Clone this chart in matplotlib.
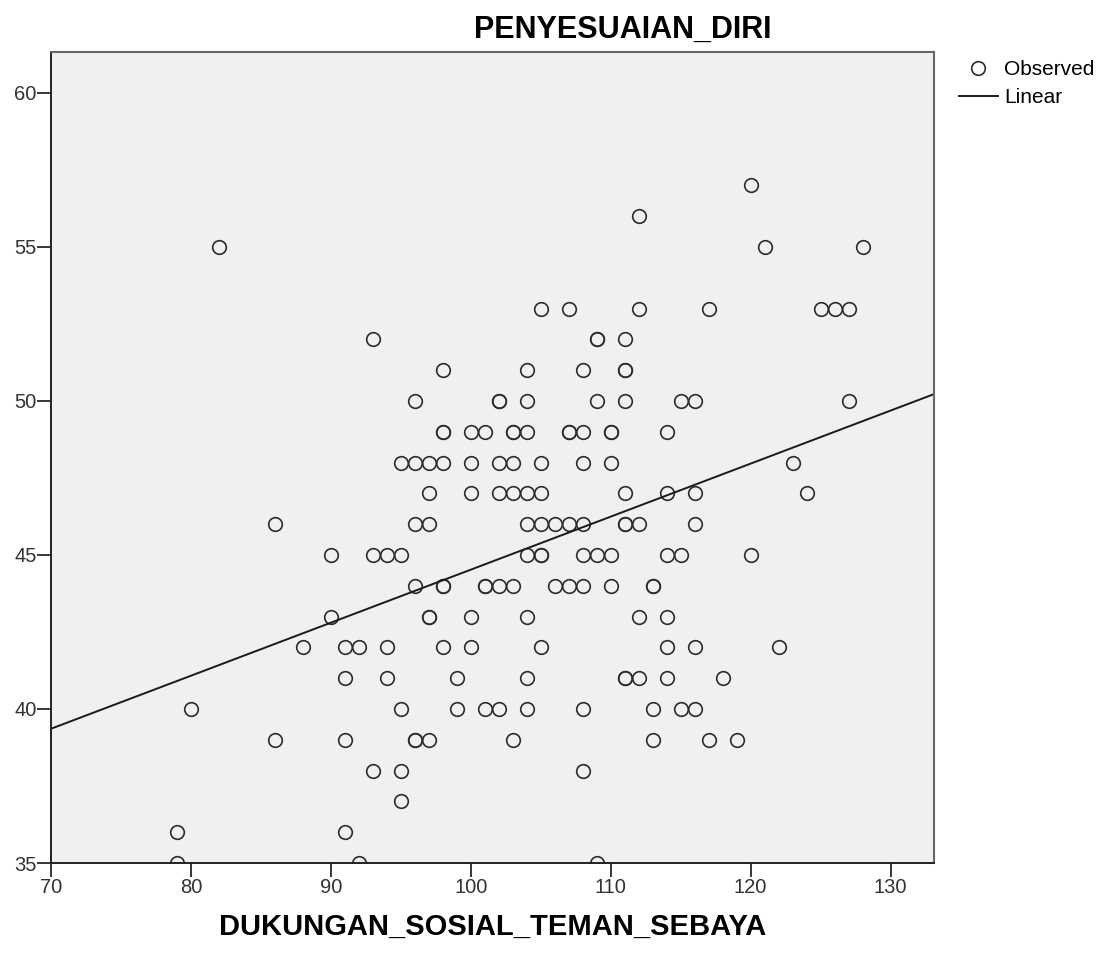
import numpy as np
import matplotlib
matplotlib.use("Agg")
import matplotlib.pyplot as plt
from matplotlib.lines import Line2D

plt.rcParams["font.family"] = ["Liberation Sans", "DejaVu Sans"]

# Observed points, grouped by PENYESUAIAN_DIRI value (duplicates kept)
rows = {
    57: [120],
    56: [112],
    55: [82, 121, 128],
    53: [105, 107, 112, 117, 125, 126, 127],
    52: [93, 109, 109, 111],
    51: [98, 104, 108, 111, 111],
    50: [96, 102, 102, 104, 109, 111, 115, 116, 127],
    49: [98, 98, 100, 101, 103, 103, 104, 107, 107, 108, 110, 110, 114],
    48: [95, 96, 97, 98, 100, 102, 103, 105, 108, 110, 123],
    47: [97, 100, 102, 103, 104, 105, 111, 114, 116, 124],
    46: [86, 96, 97, 104, 105, 106, 107, 108, 111, 111, 112, 116],
    45: [90, 93, 94, 95, 104, 105, 105, 108, 109, 110, 114, 115, 120],
    44: [96, 98, 98, 101, 101, 102, 103, 106, 107, 108, 110, 113, 113],
    43: [90, 97, 97, 100, 104, 112, 114],
    42: [88, 91, 92, 94, 98, 100, 105, 114, 116, 122],
    41: [91, 94, 99, 104, 111, 111, 112, 114, 118],
    40: [80, 95, 99, 101, 102, 104, 108, 113, 115, 116],
    39: [86, 91, 96, 96, 97, 103, 113, 117, 119],
    38: [93, 95, 108],
    37: [95],
    36: [79, 91],
    35: [79, 92, 109],
}
dukungan = [x for y, xs in rows.items() for x in xs]
penyesuaian = [y for y, xs in rows.items() for x in xs]

x_ticks = [70, 80, 90, 100, 110, 120, 130]
y_ticks = [35, 40, 45, 50, 55, 60]

fig = plt.figure(figsize=(11.09, 9.55), dpi=100)
ax = fig.add_axes([51 / 1109, 1 - 863 / 955, (934 - 51) / 1109, (863 - 52) / 955])
ax.set_facecolor("#f0f0f0")

ax.plot(dukungan, penyesuaian, "o", ms=9.8, mfc="none", mec="#2b2b2b", mew=1.2)

ax.set_xlim(70, 133.1)
ax.set_ylim(35, 61.33)

# linear fit
b1, b0 = np.polyfit(dukungan, penyesuaian, 1)
xs = np.array(ax.get_xlim())
ax.plot(xs, b0 + b1 * xs, color="#1a1a1a", lw=1.4)

ax.set_xticks(x_ticks)
ax.set_yticks(y_ticks)
ax.tick_params(axis="x", length=10, width=1.1, pad=1, labelsize=14.5, labelcolor="#333333")
ax.tick_params(axis="y", length=10, width=1.1, pad=0.5, labelsize=14.5, labelcolor="#333333")

for side in ["left", "bottom"]:
    ax.spines[side].set_color("#222222")
    ax.spines[side].set_linewidth(1.4)
for side in ["top", "right"]:
    ax.spines[side].set_color("#666666")
    ax.spines[side].set_linewidth(1.5)

ax.set_xlabel("DUKUNGAN_SOSIAL_TEMAN_SEBAYA", fontsize=21, fontweight="bold", labelpad=11)
fig.text(623 / 1109, 1 - 30 / 955, "PENYESUAIAN_DIRI", fontsize=22, fontweight="bold",
         ha="center", va="center")

handles = [
    Line2D([], [], ls="none", marker="o", ms=9.8, mfc="none", mec="#2b2b2b", mew=1.2),
    Line2D([], [], color="#1a1a1a", lw=1.4),
]
fig.legend(handles, ["Observed", "Linear"], loc="upper left",
           bbox_to_anchor=(959 / 1109, 1 - 60 / 955), frameon=False,
           fontsize=15, handlelength=1.85, handletextpad=0.3, labelspacing=0.45,
           borderpad=0, borderaxespad=0)

fig.savefig("out.png", dpi=100)
